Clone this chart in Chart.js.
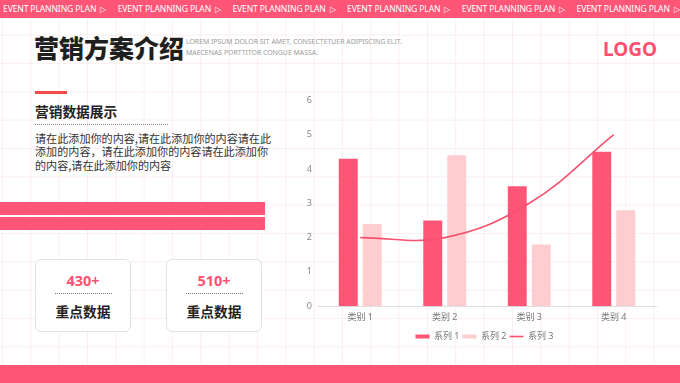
<!DOCTYPE html>
<html>
<head>
<meta charset="utf-8">
<script src="https://cdn.jsdelivr.net/npm/chart.js@4.4.0/dist/chart.umd.min.js"></script>
<style>
  html, body { margin:0; padding:0; }
  body { width:680px; height:383px; position:relative; overflow:hidden; background:#fff;
    font-family:"Noto Sans","Noto Sans CJK SC",sans-serif;
    background-image: linear-gradient(to right, #fcedf0 1px, transparent 1px), linear-gradient(to bottom, #fcedf0 1px, transparent 1px);
    background-size: 28.333px 28.333px; background-position: 2px 6.3px; }
  .abs { position:absolute; white-space:nowrap; }
  #banner { position:absolute; left:0; top:0; width:680px; height:18px; background:#ff5577; overflow:hidden; }
  .bt { position:absolute; top:0; height:18px; line-height:18px; color:#fff; font-size:8.6px; font-family:"Noto Sans",sans-serif; letter-spacing:-0.15px; }
  .bi { font-size:8px; margin-left:4px; }
  #title { left:34px; top:30px; font-size:25px; font-weight:900; color:#1f1f1f; line-height:34px; font-family:"Noto Sans CJK SC",sans-serif; }
  #sub { left:186px; top:36px; font-size:6.9px; color:#9a9a9a; line-height:11px; }
  #logo { left:603px; top:36px; font-size:19px; font-weight:700; color:#ff4f6e; line-height:26px; }
  #redline { left:35px; top:91px; width:32px; height:3px; background:#f54a4a; }
  #h2 { left:35px; top:102px; font-size:13.7px; font-weight:700; color:#222; line-height:19px; font-family:"Noto Sans CJK SC",sans-serif; }
  #dot1 { left:35px; top:124px; width:133px; height:0; border-top:1px dotted #888; }
  #para { left:35px; top:132px; font-size:11.1px; color:#333; line-height:13.4px; font-family:"Noto Sans CJK SC",sans-serif; }
  .pbar { position:absolute; left:0; width:265px; background:#ff5577; }
  .box { position:absolute; top:259px; width:94px; height:71px; border:1px solid #e2e2e2; border-radius:6px; background:#fff; }
  .num { position:absolute; left:0; width:100%; top:10px; text-align:center; color:#ff5270; font-weight:700; font-size:14.5px; line-height:20px; }
  .dl { position:absolute; left:19px; width:57px; top:33px; border-top:1px dotted #777; }
  .lab { position:absolute; left:0; width:100%; top:41px; text-align:center; color:#222; font-weight:700; font-size:13.7px; line-height:20px; font-family:"Noto Sans CJK SC",sans-serif; }
  #bottom { position:absolute; left:0; top:365px; width:680px; height:18px; background:#ff5577; }
  #chartbox { position:absolute; left:299px; top:89px; width:371px; height:262px; }
</style>
</head>
<body>
<div id="banner"></div>
<div id="title" class="abs">营销方案介绍</div>
<div id="sub" class="abs">LOREM IPSUM DOLOR SIT AMET, CONSECTETUER ADIPISCING ELIT.<br>MAECENAS PORTTITOR CONGUE MASSA.</div>
<div id="logo" class="abs">LOGO</div>
<div id="redline" class="abs"></div>
<div id="h2" class="abs">营销数据展示</div>
<div id="dot1" class="abs"></div>
<div id="para" class="abs">请在此添加你的内容,请在此添加你的内容请在此<br>添加的内容，请在此添加你的内容请在此添加你<br>的内容,请在此添加你的内容</div>
<div class="pbar" style="top:202px;height:13px;"></div>
<div class="pbar" style="top:217px;height:12.5px;"></div>
<div class="box" style="left:35px;"><div class="num">430+</div><div class="dl"></div><div class="lab">重点数据</div></div>
<div class="box" style="left:166px;"><div class="num">510+</div><div class="dl"></div><div class="lab">重点数据</div></div>
<div id="bottom"></div>
<div id="chartbox"><canvas id="c"></canvas></div>
<script>
const bannerText = "EVENT PLANNING PLAN";
const categories = ["类别 1", "类别 2", "类别 3", "类别 4"];
const seriesNames = ["系列 1", "系列 2", "系列 3"];
const series1 = [4.3, 2.5, 3.5, 4.5];
const series2 = [2.4, 4.4, 1.8, 2.8];
const series3 = [2.0, 2.0, 3.0, 5.0];
const yTicks = [0, 1, 2, 3, 4, 5, 6];

const banner = document.getElementById('banner');
for (let i = 0; i < 6; i++) {
  const s = document.createElement('div');
  s.className = 'bt';
  s.style.left = (3 + 114.7 * i) + 'px';
  s.innerHTML = bannerText + '<span class="bi">▷</span>';
  banner.appendChild(s);
}

const C1 = '#ff5577', C2 = '#ffcdd0', C3 = '#f7516f';
const font = { family: '"Noto Sans","Noto Sans CJK SC",sans-serif', size: 9 };
const legendFont = { family: '"Noto Sans","Noto Sans CJK SC",sans-serif', size: 9, lineHeight: 1 };

new Chart(document.getElementById('c'), {
  data: {
    labels: categories,
    datasets: [
      { type: 'line', label: seriesNames[2], data: series3, borderColor: C3, backgroundColor: C3,
        borderWidth: 1.6, pointRadius: 0, tension: 0.4, order: 0 },
      { type: 'bar', label: seriesNames[0], data: series1, backgroundColor: C1,
        categoryPercentage: 0.568, barPercentage: 0.79, order: 1 },
      { type: 'bar', label: seriesNames[1], data: series2, backgroundColor: C2,
        categoryPercentage: 0.568, barPercentage: 0.79, order: 2 }
    ]
  },
  options: {
    responsive: true, maintainAspectRatio: false, animation: false,
    layout: { padding: { top: 2, right: 0, left: 0, bottom: 0 } },
    scales: {
      x: { grid: { display: true, drawOnChartArea: false, drawTicks: false, color: 'rgba(0,0,0,0)' },
        border: { display: true, color: '#dddddd' },
        ticks: { color: '#777', font: font, padding: 6 } },
      y: { min: 0, max: 6, grid: { display: false, drawTicks: false }, border: { display: false },
        afterFit: (s) => { s.width = 19; },
        afterBuildTicks: (s) => { s.ticks = yTicks.map(v => ({ value: v })); },
        ticks: { color: '#888', font: font, padding: 6 } },
      yR: { position: 'right', min: 0, max: 6, grid: { display: false, drawTicks: false }, border: { display: false },
        ticks: { display: false }, afterFit: (s) => { s.width = 14; } }
    },
    plugins: {
      tooltip: { enabled: false },
      legend: {
        position: 'bottom',
        labels: {
          color: '#777', font: legendFont, usePointStyle: true, pointStyleWidth: 14, boxHeight: 4, padding: 3,
          generateLabels: (chart) => {
            const items = Chart.defaults.plugins.legend.labels.generateLabels(chart);
            items.forEach(it => {
              const ds = chart.data.datasets[it.datasetIndex];
              it.pointStyle = ds.type === 'line' ? 'line' : 'rect';
              if (ds.type === 'line') { it.lineWidth = 1.6; it.strokeStyle = C3; }
              else { it.lineWidth = 0; }
            });
            items.sort((a, b) => seriesNames.indexOf(a.text) - seriesNames.indexOf(b.text));
            return items;
          }
        }
      }
    }
  }
});
</script>
</body>
</html>
